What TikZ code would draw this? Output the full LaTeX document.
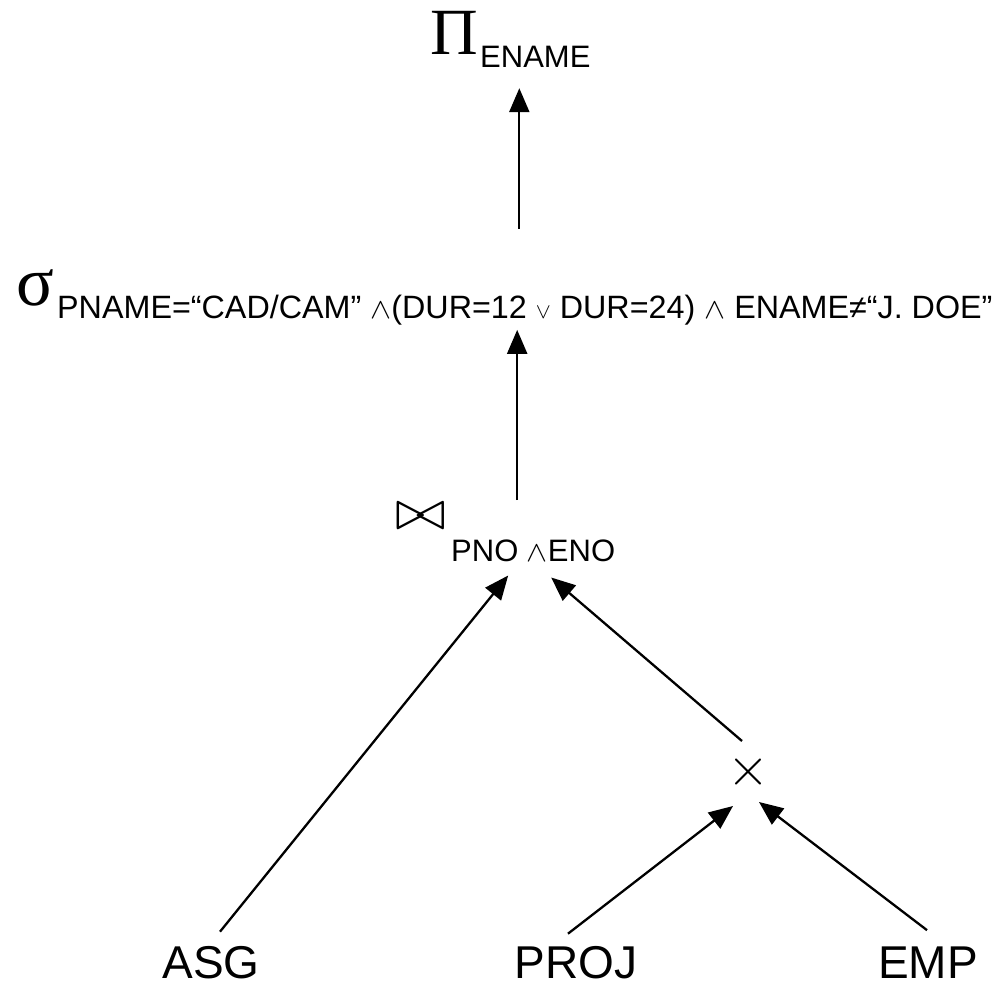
\documentclass[tikz,border=0pt]{standalone}
\usepackage{fontspec}
\setmainfont{Liberation Sans}
\newfontfamily\greekf{Liberation Serif}
\usepackage{tikz}
\usetikzlibrary{arrows.meta,positioning}
\tikzstyle{rel}=[inner sep=0pt,anchor=base,font=\fontsize{46}{50}\selectfont]
\tikzstyle{op}=[inner sep=0pt,anchor=base west]
\tikzstyle{sub}=[inner sep=0pt,anchor=base west,font=\fontsize{31}{34}\selectfont]
\tikzstyle{edge}=[line width=2.3pt,-{Triangle[length=24pt,width=20pt]}]
\newcommand{\andsym}{\resizebox{21pt}{16pt}{$\wedge$}}
\newcommand{\orsym}{\resizebox{15pt}{12pt}{$\vee$}}

\begin{document}
\begin{tikzpicture}[x=1pt,y=-1pt]
            \useasboundingbox (0,0) rectangle (1002,988);
            % leaves
            \node[rel] (asg) at (211,978) {ASG};
            \node[rel] (projrel) at (576,978) {PROJ};
            \node[rel] (emp) at (928,978) {EMP};
            % operators
            \node[inner sep=0pt] (cross) at (748,772) {\resizebox{42pt}{!}{$\times$}};
            \node[op] (bowtie) at (395,529) {\resizebox{51pt}{26pt}{$\bowtie$}};
            \node[sub] (joinsub) at (451,561) {PNO \andsym ENO};
            \node[op,font=\greekf\fontsize{70}{70}\selectfont] (sel) at (16,305) {σ};
            \node[sub,font=\fontsize{32.3}{36}\selectfont] (selsub) at (57,318)
                {PNAME=“CAD/CAM” \andsym(DUR=12 \orsym\ DUR=24) \andsym\ ENAME≠“J. DOE”};
            \node[op,font=\greekf\fontsize{66}{66}\selectfont] (pi) at (430,54) {Π};
            \node[sub] (pisub) at (480,67) {ENAME};
            % edges
            \draw[edge] ([xshift=9pt,yshift=14pt]asg.north)
                -- ([xshift=-25pt,yshift=-14pt]joinsub.south);
            \draw[edge] ([xshift=-8pt,yshift=12pt]projrel.north)
                -- ([xshift=-15pt,yshift=-34pt]cross.center);
            \draw[edge] ([xshift=-1pt,yshift=16pt]emp.north)
                -- ([xshift=11pt,yshift=-30pt]cross.center);
            \draw[edge] ([xshift=-6pt,yshift=31pt]cross.center)
                -- ([xshift=18pt,yshift=-16pt]joinsub.south);
            \draw[edge,shorten >=5pt] ([xshift=-16pt,yshift=39pt]joinsub.north)
                -- ([xshift=-16pt]joinsub.north |- selsub.south);
            \draw[edge,shorten <=40pt] ([xshift=-16pt]pisub.south |- sel.north)
                -- ([xshift=-16pt,yshift=-21pt]pisub.south);
        \end{tikzpicture}
\end{document}
